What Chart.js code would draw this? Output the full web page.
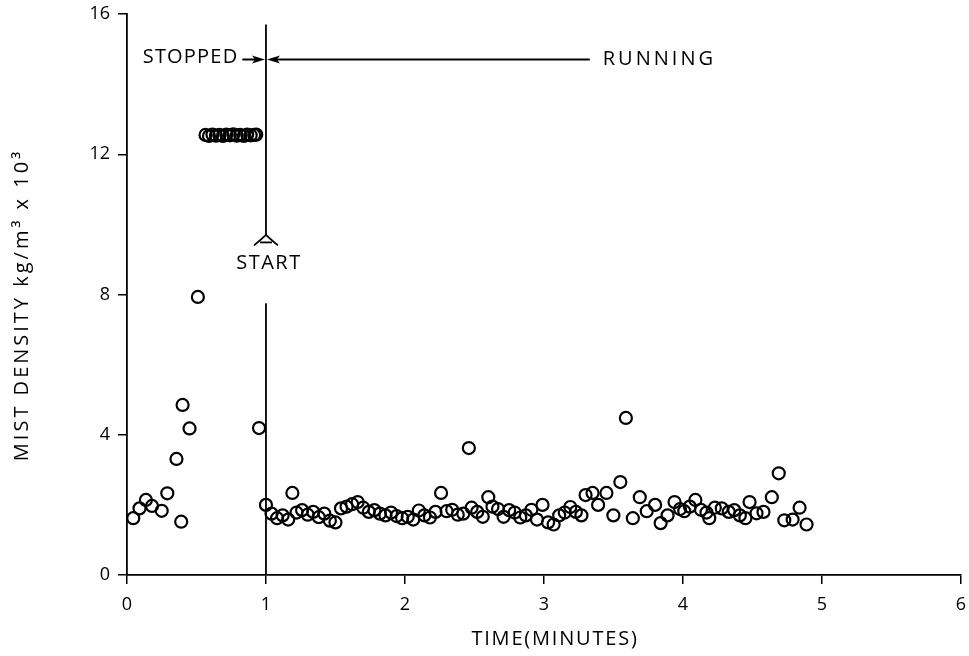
<!DOCTYPE html>
<html>
<head>
<meta charset="utf-8">
<script src="https://cdn.jsdelivr.net/npm/chart.js@4.4.1/dist/chart.umd.min.js"></script>
<style>
  html, body { margin: 0; padding: 0; background: #fff; }
  #wrap { width: 969px; height: 656px; }
</style>
</head>
<body>
<div id="wrap"><canvas id="mistCanvas" width="969" height="656"></canvas></div>
<script>
(() => {
  // fan stopped: time (minutes) and mist density (kg/m3 x 10^3)
  const stoppedTimes = [0.045, 0.09, 0.136, 0.18, 0.25, 0.29, 0.356, 0.39, 0.40, 0.45, 0.51,
    0.565, 0.59, 0.615, 0.64, 0.665, 0.69, 0.715, 0.74, 0.765, 0.79, 0.815, 0.84, 0.865, 0.89, 0.915, 0.93,
    0.95];
  const stoppedDensity = [1.62, 1.90, 2.14, 1.97, 1.83, 2.33, 3.31, 1.52, 4.85, 4.18, 7.93,
    12.55, 12.52, 12.56, 12.53, 12.55, 12.52, 12.56, 12.54, 12.57, 12.53, 12.55, 12.52, 12.56, 12.54, 12.55, 12.56,
    4.19];

  // fan running
  const runningTimes = [1.00, 1.04, 1.08, 1.12, 1.16, 1.19, 1.22, 1.26, 1.30, 1.34, 1.38, 1.42, 1.46, 1.50,
    1.54, 1.58, 1.62, 1.66, 1.70, 1.74, 1.78, 1.82, 1.86, 1.90, 1.94, 1.98, 2.02, 2.06, 2.10, 2.14,
    2.18, 2.22, 2.26, 2.30, 2.34, 2.38, 2.42, 2.46, 2.48, 2.52, 2.56, 2.60, 2.63, 2.67, 2.71, 2.75,
    2.79, 2.83, 2.87, 2.91, 2.95, 2.99, 3.03, 3.07, 3.11, 3.15, 3.19, 3.23, 3.27, 3.30, 3.35, 3.39,
    3.45, 3.50, 3.55, 3.59, 3.64, 3.69, 3.74, 3.80, 3.84, 3.89, 3.94, 3.98, 4.01, 4.05, 4.09, 4.13,
    4.17, 4.19, 4.23, 4.28, 4.33, 4.37, 4.41, 4.45, 4.48, 4.53, 4.58, 4.64, 4.69, 4.73, 4.79, 4.84, 4.89];
  const runningDensity = [2.00, 1.75, 1.62, 1.70, 1.58, 2.34, 1.78, 1.85, 1.72, 1.80, 1.65, 1.75, 1.55, 1.50,
    1.90, 1.95, 2.02, 2.08, 1.92, 1.80, 1.85, 1.75, 1.70, 1.78, 1.68, 1.62, 1.66, 1.58, 1.84, 1.70,
    1.64, 1.80, 2.34, 1.82, 1.86, 1.72, 1.75, 3.62, 1.92, 1.80, 1.66, 2.22, 1.95, 1.88, 1.66, 1.85,
    1.78, 1.64, 1.70, 1.86, 1.58, 2.00, 1.50, 1.44, 1.70, 1.78, 1.94, 1.80, 1.70, 2.28, 2.34, 2.00,
    2.34, 1.70, 2.65, 4.48, 1.62, 2.22, 1.82, 2.00, 1.48, 1.70, 2.08, 1.88, 1.82, 1.95, 2.14, 1.86,
    1.78, 1.62, 1.92, 1.90, 1.80, 1.85, 1.70, 1.62, 2.08, 1.76, 1.80, 2.22, 2.90, 1.56, 1.58, 1.92, 1.44];

  const xTicks = [0, 1, 2, 3, 4, 5, 6];
  const yTicks = [0, 4, 8, 12, 16];

  // annotation positions, in data units
  const startTime = 1;
  const startLineTop = 15.7;
  const startApex = 9.7;
  const startWing = 9.4;
  const startLabelLevel = 8.9;
  const startLineResume = 7.75;
  const arrowLevel = 14.7;
  const stoppedArrowFrom = 0.83;
  const runningArrowFrom = 3.33;

  const font = "'Open Sans', 'DejaVu Sans', sans-serif";
  const toPoints = (xs, ys) => xs.map((x, i) => ({ x: x, y: ys[i] }));

  function head(ctx, x, y, dir) {
    ctx.beginPath();
    ctx.moveTo(x, y);
    ctx.lineTo(x - dir * 13, y - 4);
    ctx.lineTo(x - dir * 10, y);
    ctx.lineTo(x - dir * 13, y + 4);
    ctx.closePath();
    ctx.fill();
  }

  const notes = {
    id: 'notes',
    afterDatasetsDraw(chart) {
      const ctx = chart.ctx;
      const xs = chart.scales.x;
      const ys = chart.scales.y;
      const px = xs.getPixelForValue(startTime);
      ctx.save();
      ctx.strokeStyle = '#000';
      ctx.fillStyle = '#000';
      ctx.lineWidth = 1.8;

      // START line, in two pieces
      ctx.beginPath();
      ctx.moveTo(px, ys.getPixelForValue(startLineTop));
      ctx.lineTo(px, ys.getPixelForValue(startApex));
      ctx.moveTo(px, ys.getPixelForValue(startLineResume));
      ctx.lineTo(px, ys.getPixelForValue(0));
      ctx.stroke();

      // inverted V under the upper piece
      const apex = ys.getPixelForValue(startApex);
      const wing = ys.getPixelForValue(startWing);
      ctx.beginPath();
      ctx.moveTo(px - 12, wing);
      ctx.quadraticCurveTo(px - 3, apex + 3, px, apex);
      ctx.quadraticCurveTo(px + 3, apex + 3, px + 12, wing);
      ctx.stroke();
      ctx.beginPath();
      ctx.moveTo(px - 6, wing - 3);
      ctx.lineTo(px + 6, wing - 3);
      ctx.stroke();

      // STOPPED / RUNNING arrows
      const ay = ys.getPixelForValue(arrowLevel);
      ctx.lineWidth = 2;
      ctx.beginPath();
      ctx.moveTo(xs.getPixelForValue(stoppedArrowFrom), ay);
      ctx.lineTo(px - 8, ay);
      ctx.moveTo(xs.getPixelForValue(runningArrowFrom), ay);
      ctx.lineTo(px + 8, ay);
      ctx.stroke();
      head(ctx, px - 1, ay, 1);
      head(ctx, px + 1, ay, -1);

      ctx.font = '20px ' + font;
      ctx.textBaseline = 'middle';
      ctx.textAlign = 'right';
      ctx.letterSpacing = '1.2px';
      ctx.fillText('STOPPED', xs.getPixelForValue(stoppedArrowFrom) - 4, ay - 2);
      ctx.textAlign = 'left';
      ctx.letterSpacing = '3px';
      ctx.fillText('RUNNING', xs.getPixelForValue(runningArrowFrom) + 13, ay);
      ctx.textAlign = 'center';
      ctx.letterSpacing = '1.5px';
      ctx.fillText('START', px + 3, ys.getPixelForValue(startLabelLevel));

      // axis titles
      ctx.font = '20px ' + font;
      ctx.letterSpacing = '1.8px';
      ctx.fillText('TIME(MINUTES)', xs.getPixelForValue(3.08), 639);
      ctx.translate(22, ys.getPixelForValue(7.7));
      ctx.rotate(-Math.PI / 2);
      ctx.letterSpacing = '3px';
      ctx.fillText('MIST DENSITY kg/m³ x 10³', 0, 0);
      ctx.restore();
    }
  };

  const circle = {
    type: 'scatter',
    pointStyle: 'circle',
    pointRadius: 6,
    pointHoverRadius: 6,
    pointBorderWidth: 2.2,
    borderColor: '#000',
    backgroundColor: 'rgba(255,255,255,0)',
    showLine: false
  };

  new Chart(document.getElementById('mistCanvas').getContext('2d'), {
    type: 'scatter',
    data: {
      datasets: [
        Object.assign({ label: 'Stopped', data: toPoints(stoppedTimes, stoppedDensity) }, circle),
        Object.assign({ label: 'Running', data: toPoints(runningTimes, runningDensity) }, circle)
      ]
    },
    options: {
      responsive: false,
      animation: false,
      devicePixelRatio: 1,
      layout: { padding: { top: 14, right: -3, left: 0, bottom: 0 } },
      plugins: { legend: { display: false }, tooltip: { enabled: false } },
      scales: {
        x: {
          type: 'linear',
          min: 0,
          max: 6,
          afterBuildTicks: s => { s.ticks = xTicks.map(v => ({ value: v })); },
          afterFit: s => { s.height = 81; s.paddingLeft = 0; s.paddingRight = 0; },
          ticks: { color: '#000', padding: 10, font: { family: font, size: 18 } },
          grid: { drawOnChartArea: false, drawTicks: true, tickLength: 9, color: '#000', lineWidth: 1.5 },
          border: { display: true, color: '#000', width: 1.8 }
        },
        y: {
          type: 'linear',
          min: 0,
          max: 16,
          afterBuildTicks: s => { s.ticks = yTicks.map(v => ({ value: v })); },
          afterFit: s => { s.width = 127; s.paddingTop = 0; s.paddingBottom = 0; },
          ticks: { color: '#000', padding: 8, font: { family: font, size: 18 } },
          grid: { drawOnChartArea: false, drawTicks: true, tickLength: 9, color: '#000', lineWidth: 1.5 },
          border: { display: true, color: '#000', width: 1.8 }
        }
      }
    },
    plugins: [notes]
  });
})();
</script>
</body>
</html>
